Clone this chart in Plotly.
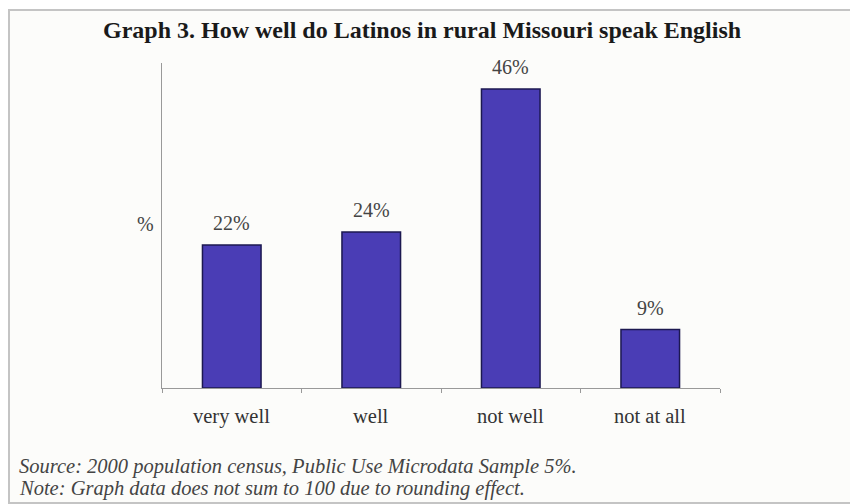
import plotly.graph_objects as go

categories = ["very well", "well", "not well", "not at all"]
values = [22, 24, 46, 9]
labels = ["22%", "24%", "46%", "9%"]

OFF = 8  # page body margin
W, H = 858 - OFF, 504 - OFF
L, T = 162 - OFF, 63 - OFF
PR, PB = 720 - OFF, 388 - OFF
R, B = W - PR, H - PB
pw, ph = PR - L, PB - T


def px(x):
    return (x - OFF - L) / pw


def py(y):
    return (PB - (y - OFF)) / ph


SERIF = "Liberation Serif"

fig = go.Figure()
fig.add_trace(go.Bar(
    x=categories, y=values,
    marker=dict(color="#4a3db5", line=dict(color="#1c1850", width=1.5)),
    width=0.42,
    hoverinfo="skip",
))

for c, v, t in zip(categories, values, labels):
    fig.add_annotation(x=c, y=v, text=t, showarrow=False, yanchor="middle", yshift=22,
                       font=dict(family=SERIF, size=20, color="#444"))

for c in categories:
    fig.add_annotation(x=c, xref="x", yref="paper", y=py(416), text=c, showarrow=False,
                       yanchor="middle", font=dict(family=SERIF, size=20.5, color="#333"))

fig.add_annotation(xref="paper", yref="paper", x=px(422), y=py(30),
                   text="<b>Graph 3. How well do Latinos in rural Missouri speak English</b>",
                   showarrow=False, xanchor="center", yanchor="middle",
                   font=dict(family=SERIF, size=24, color="#1a1a1a"))
fig.add_annotation(xref="paper", yref="paper", x=px(145), y=py(224), text="%",
                   showarrow=False, xanchor="center", yanchor="middle",
                   font=dict(family=SERIF, size=20, color="#444"))
fig.add_annotation(xref="paper", yref="paper", x=px(17), y=py(466),
                   text="<i>Source: 2000 population census, Public Use Microdata Sample 5%.</i>",
                   showarrow=False, xanchor="left", yanchor="middle",
                   font=dict(family=SERIF, size=20.5, color="#444"))
fig.add_annotation(xref="paper", yref="paper", x=px(17), y=py(488),
                   text="<i>Note: Graph data does not sum to 100 due to rounding effect.</i>",
                   showarrow=False, xanchor="left", yanchor="middle",
                   font=dict(family=SERIF, size=20.5, color="#444"))

fig.add_shape(type="rect", xref="paper", yref="paper", layer="below",
              x0=px(9), x1=px(856), y0=py(503), y1=py(10),
              line=dict(color="#c4c4c4", width=2), fillcolor="#fcfcfa")

fig.update_layout(
    width=W, height=H,
    margin=dict(l=L, r=R, t=T, b=B),
    paper_bgcolor="#ffffff", plot_bgcolor="rgba(0,0,0,0)",
    showlegend=False,
    xaxis=dict(showline=True, linecolor="#999", linewidth=1, ticks="outside", tickson="boundaries",
               ticklen=4, tickcolor="#999", showgrid=False, showticklabels=False),
    yaxis=dict(range=[0, 50], showline=True, linecolor="#999", linewidth=1, showticklabels=False,
               ticks="", showgrid=False, zeroline=False),
)

fig.write_html("out.html")
